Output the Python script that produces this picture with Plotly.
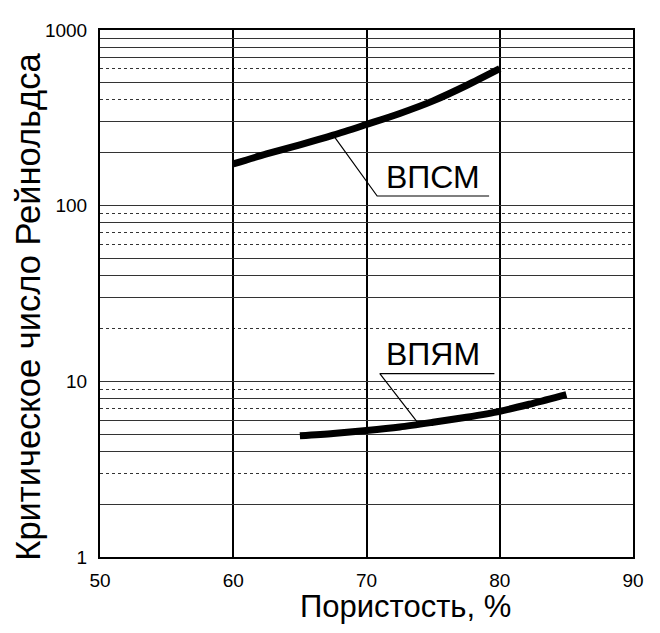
import numpy as np
import plotly.graph_objects as go

# ---- data ----
vpsm_x = [60, 62.5, 65, 67.5, 70, 72.5, 75, 77.5, 80]
vpsm_y = [173, 197, 222, 252, 290, 335, 395, 483, 602]

vpyam_x = [65, 67.5, 70, 72.5, 75, 77.5, 80, 82.5, 85]
vpyam_y = [4.9, 5.05, 5.25, 5.5, 5.85, 6.25, 6.75, 7.5, 8.4]

x_ticks = [50, 60, 70, 80, 90]
y_decades = [1, 10, 100, 1000]
y_solid_minor = [2, 4, 5, 6, 8, 30, 40, 50, 80, 200, 300, 500, 700, 800, 900]
y_dotted_minor = [3, 7, 9, 20, 60, 70, 90, 400, 600]

FONT = "Liberation Sans, Arial, sans-serif"

fig = go.Figure()

fig.add_trace(go.Scatter(x=vpsm_x, y=vpsm_y, mode="lines",
                         line=dict(color="black", width=7, shape="spline", smoothing=0.8),
                         hoverinfo="skip", showlegend=False, name="ВПСМ"))
fig.add_trace(go.Scatter(x=vpyam_x, y=vpyam_y, mode="lines",
                         line=dict(color="black", width=7, shape="spline", smoothing=0.8),
                         hoverinfo="skip", showlegend=False, name="ВПЯМ"))

# leader lines for labels
fig.add_trace(go.Scatter(x=[67.5, 70.8, 79.2], y=[252, 113.5, 113.5], mode="lines",
                         line=dict(color="black", width=1.2),
                         hoverinfo="skip", showlegend=False))
fig.add_trace(go.Scatter(x=[73.9, 71.0, 79.6], y=[5.75, 11.05, 11.05], mode="lines",
                         line=dict(color="black", width=1.2),
                         hoverinfo="skip", showlegend=False))

fig.add_annotation(x=75, y=np.log10(146), xref="x", yref="y", text="ВПСМ",
                   showarrow=False, font=dict(family=FONT, size=32, color="black"))
fig.add_annotation(x=75, y=np.log10(14.3), xref="x", yref="y", text="ВПЯМ",
                   showarrow=False, font=dict(family=FONT, size=32, color="black"))

# axis titles
fig.add_annotation(x=0.574, y=-0.093, xref="paper", yref="paper", text="Пористость, %",
                   xanchor="center", yanchor="middle",
                   showarrow=False, font=dict(family=FONT, size=31, color="black"))
fig.add_annotation(x=-0.1355, y=0.4745, xref="paper", yref="paper",
                   text="Критическое число Рейнольдса", textangle=-90,
                   xanchor="center", yanchor="middle",
                   showarrow=False, font=dict(family=FONT, size=34.5, color="black"))

y_major_vals = y_decades + y_solid_minor
y_major_text = [str(v) if v in y_decades else "" for v in y_major_vals]

fig.update_layout(
    width=652, height=625,
    margin=dict(l=92, r=27, t=18, b=76),
    paper_bgcolor="white", plot_bgcolor="white",
    font=dict(family=FONT, size=18, color="black"),
    xaxis=dict(range=[50, 90], tickvals=x_ticks, ticks="", showgrid=True,
               gridcolor="black", gridwidth=1.5, showline=True, linecolor="black",
               linewidth=2, mirror=True, zeroline=False, ticklabelstandoff=5,
               tickfont=dict(family=FONT, size=19, color="black")),
    yaxis=dict(type="log", range=[0, 3], tickmode="array", tickvals=y_major_vals,
               ticktext=y_major_text, ticks="", showgrid=True, gridcolor="#333333",
               gridwidth=1, showline=True, linecolor="black", linewidth=2, mirror=True,
               zeroline=False, ticklabelstandoff=7,
               tickfont=dict(family=FONT, size=19, color="black"),
               minor=dict(tickmode="array", tickvals=y_dotted_minor, showgrid=True,
                          gridcolor="#333333", gridwidth=1, griddash="dot", ticks="")),
)

fig.write_html("out.html")
